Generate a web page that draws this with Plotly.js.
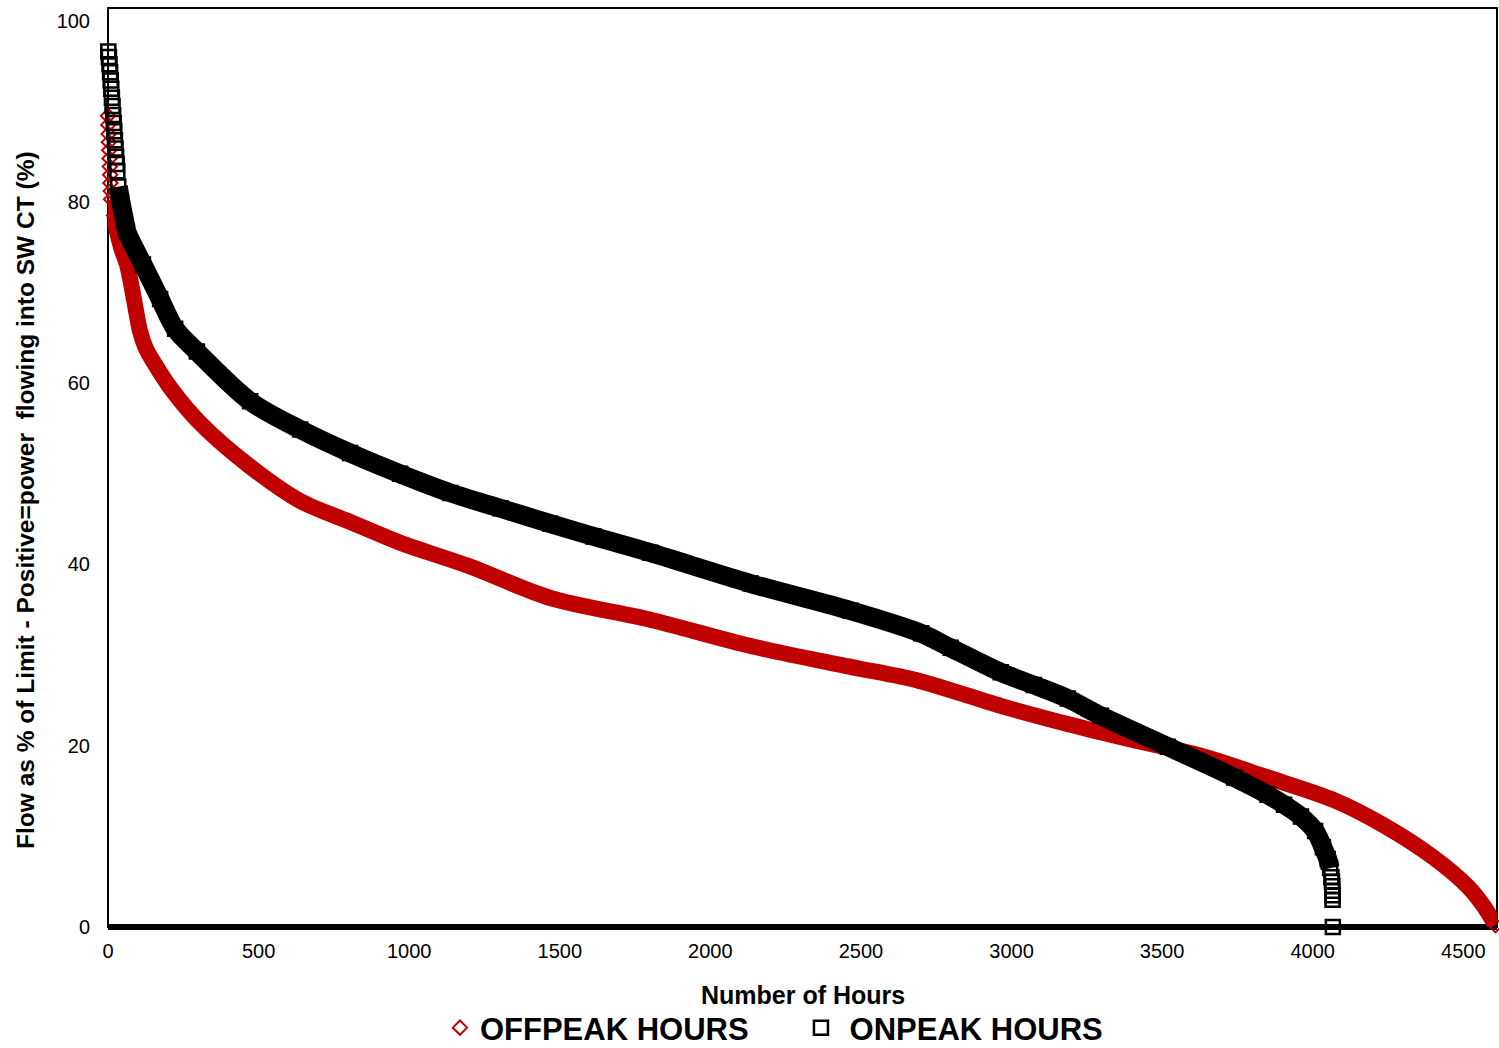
<!DOCTYPE html>
<html>
<head>
<meta charset="utf-8">
<script src="https://cdn.plot.ly/plotly-3.0.1.min.js"></script>
<style>
  html, body { margin: 0; padding: 0; background: #ffffff; }
  #chart { width: 1499px; height: 1048px; }
</style>
</head>
<body>
<div id="chart"></div>
<script>
// Flow duration curves: hours sorted by flow, as % of limit (positive = into SW CT)
const offpeakHours = [0, 1, 2, 3, 4, 5, 6, 7, 8, 9, 10, 20, 30, 45, 63, 86, 106, 125, 150, 209, 306, 472, 638, 804, 970, 1200, 1469, 1801, 2134, 2466, 2688, 2964, 3186, 3407, 3629, 3851, 4071, 4237, 4404, 4517, 4570, 4607];
const offpeakFlow  = [89.5, 88.5, 87.5, 86.6, 85.7, 84.8, 83.9, 83.0, 82.1, 81.2, 80.3, 78.5, 76.7, 74.8, 73.1, 69.3, 65.8, 63.9, 62.4, 59.4, 55.6, 50.8, 47.0, 44.7, 42.4, 39.8, 36.3, 33.9, 31.0, 28.7, 27.2, 24.4, 22.4, 20.6, 18.9, 16.5, 14.0, 11.2, 7.6, 4.4, 2.2, 0.2];

const onpeakHours = [1, 3, 5, 7, 9, 11, 13, 15, 17, 19, 21, 23, 25, 27, 29, 31, 34, 43, 56, 63, 116, 173, 223, 295, 472, 638, 804, 970, 1137, 1303, 1469, 1612, 1801, 2134, 2466, 2700, 2798, 2964, 3074, 3187, 3297, 3519, 3739, 3850, 3905, 3961, 4008, 4034, 4050, 4058, 4062, 4064, 4065, 4065, 4066, 4066, 4067];
const onpeakFlow  = [96.6, 96.0, 95.2, 94.3, 93.4, 92.5, 91.5, 90.6, 89.6, 88.7, 87.8, 86.8, 85.9, 85.0, 84.2, 83.4, 81.7, 80.0, 77.8, 76.7, 73.1, 69.3, 66.0, 63.5, 58.0, 54.9, 52.3, 50.0, 47.9, 46.2, 44.5, 43.1, 41.3, 37.9, 34.9, 32.4, 30.8, 28.1, 26.7, 25.2, 23.3, 19.9, 16.5, 14.6, 13.5, 12.2, 10.6, 8.8, 7.5, 6.5, 5.5, 5.0, 4.5, 4.0, 3.5, 3.0, 0];

const xTicks = [0, 500, 1000, 1500, 2000, 2500, 3000, 3500, 4000, 4500];
const yTicks = [0, 20, 40, 60, 80, 100];

const seriesNames = ['OFFPEAK HOURS', '\u00a0ONPEAK HOURS'];
const xTitle = 'Number of Hours';
const yTitle = 'Flow as % of Limit - Positive=power  flowing into SW CT (%)';

const FONT = 'Liberation Sans, Arial, Helvetica, sans-serif';
const RED = '#c00000';
const BLACK = '#000000';

// dense part of each curve is drawn as a thick band; sparse ends stay as open markers
const offStart = offpeakFlow.findIndex(v => v <= 80.5);
const onStart = onpeakFlow.findIndex(v => v <= 82);
const onEnd = onpeakFlow.findIndex(v => v < 6.5);

const traces = [
  {
    x: offpeakHours.slice(offStart), y: offpeakFlow.slice(offStart),
    type: 'scatter', mode: 'lines', showlegend: false, hoverinfo: 'skip',
    line: { color: RED, width: 16, shape: 'spline', smoothing: 0.9 }, cliponaxis: false
  },
  {
    x: offpeakHours, y: offpeakFlow, name: seriesNames[0],
    type: 'scatter', mode: 'markers', cliponaxis: false,
    marker: { symbol: 'diamond-open', size: 11, color: RED, line: { width: 2 } }
  },
  {
    x: onpeakHours.slice(onStart, onEnd), y: onpeakFlow.slice(onStart, onEnd),
    type: 'scatter', mode: 'lines', showlegend: false, hoverinfo: 'skip',
    line: { color: BLACK, width: 19, shape: 'spline', smoothing: 0.9 }, cliponaxis: false
  },
  {
    x: onpeakHours, y: onpeakFlow, name: seriesNames[1],
    type: 'scatter', mode: 'markers', cliponaxis: false,
    marker: { symbol: 'square-open', size: 14, color: BLACK, line: { width: 2.5 } }
  }
];

const layout = {
  width: 1499, height: 1048,
  paper_bgcolor: '#ffffff', plot_bgcolor: '#ffffff',
  font: { family: FONT, color: '#000000' },
  margin: { l: 108, r: 2, t: 8, b: 121, pad: 0, autoexpand: false },
  showlegend: true,
  legend: {
    orientation: 'h', xref: 'container', yref: 'container',
    x: 0.2935, xanchor: 'left', y: 0.0191, yanchor: 'middle',
    font: { family: FONT, size: 31, color: '#000000', weight: 'bold' },
    entrywidth: 316, entrywidthmode: 'pixels',
    bgcolor: 'rgba(0,0,0,0)', borderwidth: 0
  },
  xaxis: {
    range: [0, 4612], tickvals: xTicks, ticktext: xTicks.map(String),
    showgrid: false, zeroline: false, showline: false, ticks: '',
    ticklabelstandoff: 10,
    tickfont: { family: FONT, size: 20, color: '#000000' },
    automargin: false
  },
  yaxis: {
    range: [0, 101.4], tickvals: yTicks, ticktext: yTicks.map(String),
    showgrid: false, showline: false, ticks: '',
    zeroline: true, zerolinecolor: '#000000', zerolinewidth: 6,
    ticklabelstandoff: 17,
    tickfont: { family: FONT, size: 20, color: '#000000' },
    automargin: false
  },
  shapes: [
    { type: 'rect', xref: 'paper', yref: 'paper', x0: 0, x1: 1, y0: 0, y1: 1,
      line: { color: '#000000', width: 2 }, layer: 'below' }
  ],
  annotations: [
    { text: xTitle, xref: 'paper', yref: 'paper', x: 0.5, y: -0.0745,
      xanchor: 'center', yanchor: 'middle', showarrow: false,
      font: { family: FONT, size: 25, color: '#000000', weight: 'bold' } },
    { text: yTitle, xref: 'paper', yref: 'paper', x: -0.0598, y: 0.4646,
      xanchor: 'center', yanchor: 'middle', textangle: -90, showarrow: false,
      font: { family: FONT, size: 24.5, color: '#000000', weight: 'bold' } }
  ]
};

Plotly.newPlot('chart', traces, layout, { displayModeBar: false, staticPlot: true });
</script>
</body>
</html>
